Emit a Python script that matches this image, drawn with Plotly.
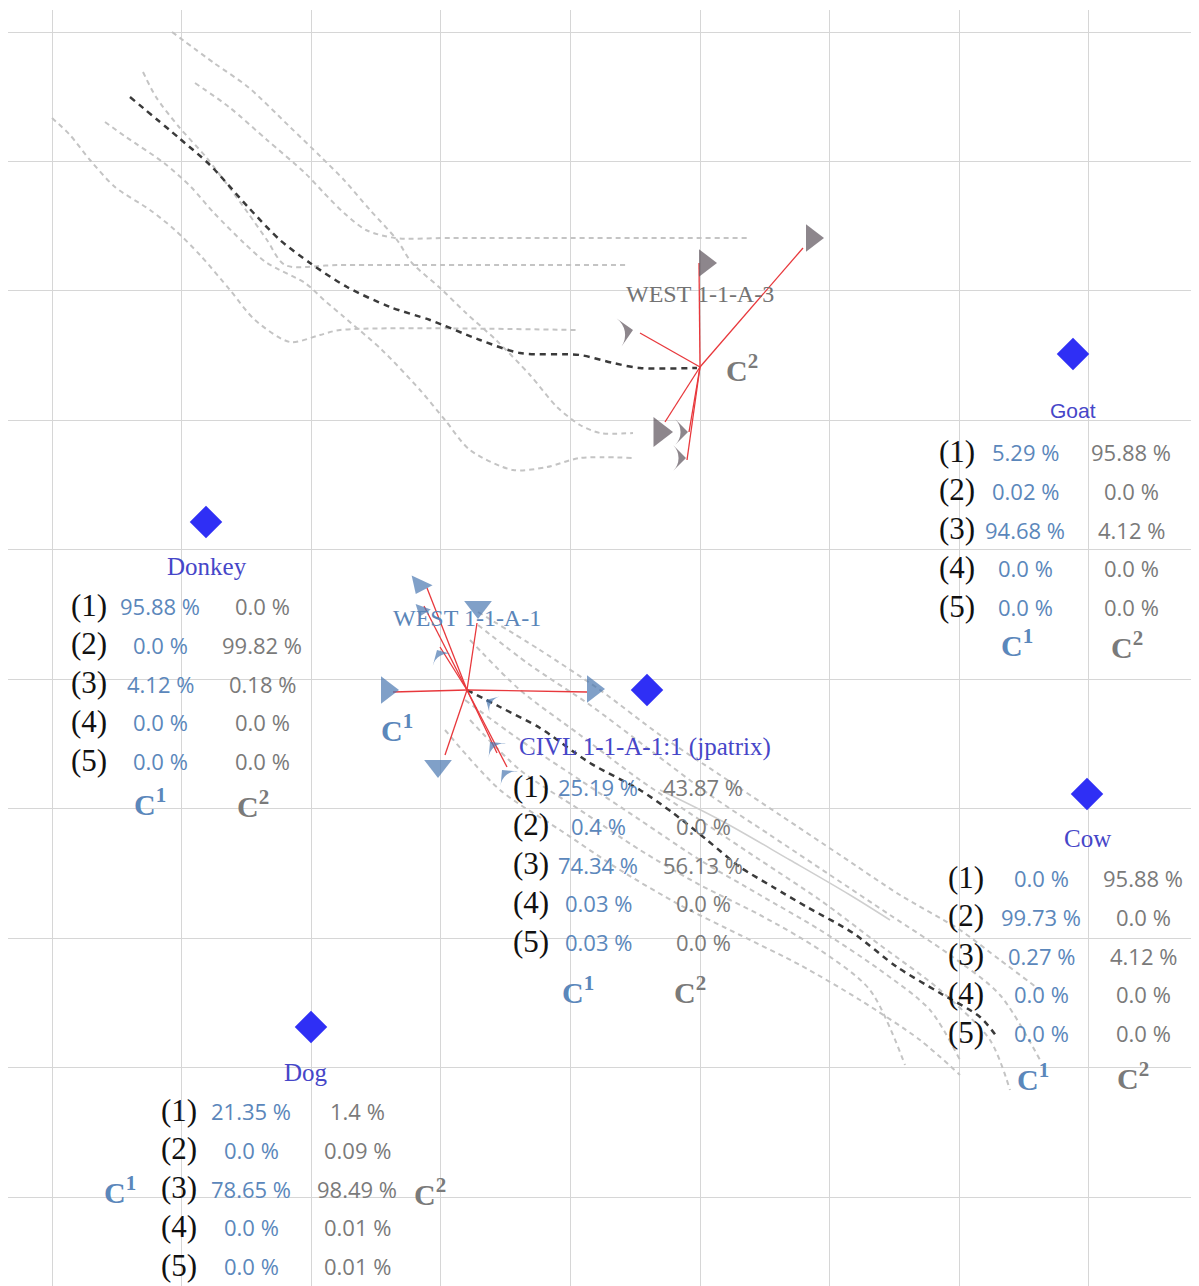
import plotly.graph_objects as go

# -------------------------------------------------
# data (page-pixel units)
# -------------------------------------------------
NODE_NAMES = ["Goat", "Donkey", "CIVL 1-1-A-1:1 (jpatrix)", "Cow", "Dog"]
NODE_X = [1073, 206, 647, 1087, 311]
NODE_Y = [354, 522, 690, 794, 1027]

ROW_TAGS = ["(1)", "(2)", "(3)", "(4)", "(5)"]
C1_SHARE = [
    [5.29, 0.02, 94.68, 0.0, 0.0],
    [95.88, 0.0, 4.12, 0.0, 0.0],
    [25.19, 0.4, 74.34, 0.03, 0.03],
    [0.0, 99.73, 0.27, 0.0, 0.0],
    [21.35, 0.0, 78.65, 0.0, 0.0],
]
C2_SHARE = [
    [95.88, 0.0, 4.12, 0.0, 0.0],
    [0.0, 99.82, 0.18, 0.0, 0.0],
    [43.87, 0.0, 56.13, 0.0, 0.0],
    [95.88, 0.0, 4.12, 0.0, 0.0],
    [1.4, 0.09, 98.49, 0.01, 0.01],
]

# star centres (cluster nodes)
STAR_NAMES = ["WEST 1-1-A-3", "WEST 1-1-A-1"]
STAR_X = [700, 467]
STAR_Y = [367, 690]

# edges out of the C2 star
C2_END_X = [699, 803, 640, 665, 689, 687]
C2_END_Y = [263, 248, 333, 422, 432, 460]
C2_HEAD_X = [705, 812, 633, 660, 688, 686]
C2_HEAD_Y = [263, 238, 330, 432, 432, 458]
C2_HEAD_SYM = ["triangle-right", "triangle-right", "arrow-wide", "triangle-right", "arrow-wide", "arrow-wide"]
C2_HEAD_ANG = [0, 0, 80, 0, 90, 90]

# edges out of the C1 star
C1_END_X = [393, 587, 427, 477, 440, 424, 445, 497, 507]
C1_END_Y = [692, 692, 588, 623, 647, 606, 755, 753, 767]
C1_HEAD_X = [387, 593, 420, 478, 437, 422, 438, 490, 502, 486]
C1_HEAD_Y = [690, 689, 585, 607, 650, 610, 766, 742, 770, 700]
C1_HEAD_SYM = ["triangle-right", "triangle-right", "triangle-down", "triangle-down", "arrow-wide",
               "triangle-down", "triangle-down", "arrow-wide", "arrow-wide", "arrow-wide"]
C1_HEAD_ANG = [0, 0, 25, 0, -30, 20, 0, -40, -40, -60]

# trails (dashed, gray) top-left
TRAIL_TOP_X = [
    [172, 214, 248, 290, 321, 344, 370, 397, 412, 439, 466, 496, 530, 557, 580, 600, 633],
    [195, 229, 267, 305, 324, 344, 366, 395, 450, 750],
    [143, 156, 179, 206, 229, 248, 267, 285, 340, 628],
    [105, 126, 164, 191, 214, 244, 267, 305, 324, 344, 382, 420, 445, 470, 513, 547, 580, 633],
    [52, 70, 90, 115, 150, 175, 200, 230, 255, 290, 320, 340, 577],
]
TRAIL_TOP_Y = [
    [32, 63, 87, 127, 157, 180, 210, 240, 263, 287, 313, 340, 375, 407, 425, 433, 433],
    [83, 107, 140, 173, 193, 213, 230, 238, 238, 238],
    [72, 97, 127, 157, 187, 213, 240, 265, 265, 265],
    [122, 137, 163, 187, 213, 243, 263, 283, 300, 317, 350, 390, 420, 450, 470, 467, 458, 458],
    [118, 135, 160, 187, 210, 230, 255, 290, 320, 342, 335, 330, 330],
]
DARK_TOP_X = [130, 179, 210, 248, 280, 310, 347, 390, 430, 480, 520, 580, 613, 640, 697]
DARK_TOP_Y = [97, 138, 165, 207, 240, 263, 287, 307, 320, 340, 353, 355, 363, 368, 368]

# trails (dashed, gray) bottom-right
TRAIL_BOT_X = [
    [478, 540, 600, 660, 720, 780, 840, 900, 960, 1000, 1040],
    [478, 530, 590, 650, 710, 770, 830, 890, 950, 1000, 1040],
    [470, 520, 580, 640, 700, 760, 820, 880, 940, 990, 1010],
    [465, 520, 580, 640, 700, 760, 820, 880, 930, 960],
    [470, 520, 580, 640, 700, 760, 820, 870, 905],
    [445, 500, 560, 620, 680, 740, 800, 860, 920, 960],
]
TRAIL_BOT_Y = [
    [612, 650, 690, 735, 775, 815, 855, 895, 930, 960, 990],
    [625, 665, 705, 750, 795, 835, 875, 915, 955, 995, 1060],
    [640, 690, 735, 780, 820, 860, 900, 945, 990, 1040, 1090],
    [700, 740, 780, 820, 860, 895, 930, 970, 1010, 1060],
    [720, 770, 810, 850, 885, 915, 950, 990, 1065],
    [730, 790, 830, 870, 905, 935, 965, 1000, 1040, 1075],
]
SOLID_BOT_X = [660, 720, 790, 850, 890]
SOLID_BOT_Y = [790, 820, 860, 895, 920]
DARK_BOT_X = [467, 500, 540, 590, 640, 673, 707, 740, 773, 807, 853, 897, 940, 980, 997]
DARK_BOT_Y = [690, 707, 728, 763, 790, 813, 840, 867, 887, 907, 933, 967, 993, 1017, 1037]

# -------------------------------------------------
# styles
# -------------------------------------------------
SERIF = "Liberation Serif, Times New Roman, serif"
NUMF = "Open Sans, Liberation Sans, sans-serif"
NAME_CLR = "#4646c8"
C1_CLR = "#5b87bb"
C2_CLR = "#7a7a7a"
C2_HEAD_CLR = "#5d535b"
C1_HEAD_CLR = "#4a78b0"

# table placement per node: label, first row y, tag/col1/col2 x, C1 / C2 label
TABLES = [
    dict(label=(1073, 410), y0=451, xs=(957, 1025, 1131), c1=(1017, 643), c2=(1127, 645), sans=True),
    dict(label=(207, 566), y0=605, xs=(89, 160, 262), c1=(150, 802), c2=(253, 804)),
    dict(label=(645, 747), y0=786, xs=(531, 598, 703), c1=(578, 990), c2=(690, 990)),
    dict(label=(1087, 838), y0=877, xs=(966, 1041, 1143), c1=(1033, 1077), c2=(1133, 1076)),
    dict(label=(306, 1072), y0=1110, xs=(179, 251, 357), c1=(120, 1190), c2=(430, 1192)),
]
ROW_DY = 38.8

fig = go.Figure()

# gray trails
for xs, ys in zip(TRAIL_TOP_X + TRAIL_BOT_X, TRAIL_TOP_Y + TRAIL_BOT_Y):
    fig.add_trace(go.Scatter(x=xs, y=ys, mode="lines",
                             line=dict(color="#c4c4c4", width=2, dash="5px,4px", shape="spline", smoothing=0.8),
                             hoverinfo="skip"))
fig.add_trace(go.Scatter(x=SOLID_BOT_X, y=SOLID_BOT_Y, mode="lines",
                         line=dict(color="#cfcfcf", width=1.5, shape="spline"), hoverinfo="skip"))

# dark trails
for xs, ys in [(DARK_TOP_X, DARK_TOP_Y), (DARK_BOT_X, DARK_BOT_Y)]:
    fig.add_trace(go.Scatter(x=xs, y=ys, mode="lines",
                             line=dict(color="#3a3a3a", width=2.5, dash="6px,5px", shape="spline", smoothing=0.8),
                             hoverinfo="skip"))

# red star edges
for cx, cy, ex, ey in [(STAR_X[0], STAR_Y[0], C2_END_X, C2_END_Y),
                       (STAR_X[1], STAR_Y[1], C1_END_X, C1_END_Y)]:
    lx, ly = [], []
    for x, y in zip(ex, ey):
        lx += [cx, x, None]
        ly += [cy, y, None]
    fig.add_trace(go.Scatter(x=lx, y=ly, mode="lines",
                             line=dict(color="#e8383c", width=1.3), hoverinfo="skip"))

# arrow heads
fig.add_trace(go.Scatter(x=C2_HEAD_X, y=C2_HEAD_Y, mode="markers",
                         marker=dict(symbol=C2_HEAD_SYM, angle=C2_HEAD_ANG, size=[24, 24, 20, 26, 18, 18],
                                     color=C2_HEAD_CLR, line=dict(width=0)), hoverinfo="skip"))
fig.add_trace(go.Scatter(x=C1_HEAD_X, y=C1_HEAD_Y, mode="markers",
                         marker=dict(symbol=C1_HEAD_SYM, angle=C1_HEAD_ANG,
                                     size=[24, 24, 20, 24, 16, 14, 24, 16, 16, 14],
                                     color=C1_HEAD_CLR, line=dict(width=0)), hoverinfo="skip"))

# nodes
fig.add_trace(go.Scatter(x=NODE_X, y=NODE_Y, mode="markers",
                         marker=dict(symbol="diamond", size=25, color="#2f2ff5", line=dict(width=0)),
                         text=NODE_NAMES, hoverinfo="text"))

ann = []


def txt(x, y, s, size, color, family=SERIF):
    ann.append(dict(x=x, y=y, text=s, showarrow=False, xanchor="center", yanchor="middle",
                    font=dict(size=size, color=color, family=family)))


for name, t, c1v, c2v in zip(NODE_NAMES, TABLES, C1_SHARE, C2_SHARE):
    fam = "Liberation Sans, Arial, sans-serif" if t.get("sans") else SERIF
    txt(*t["label"], name, 21 if t.get("sans") else 25, NAME_CLR, fam)
    xn, x1, x2 = t["xs"]
    for i, (tag, a, b) in enumerate(zip(ROW_TAGS, c1v, c2v)):
        y = t["y0"] + i * ROW_DY
        txt(xn, y, tag, 31, "#111111")
        txt(x1, y + 1, f"{a} %", 22, C1_CLR, NUMF)
        txt(x2, y + 1, f"{b} %", 22, C2_CLR, NUMF)
    txt(*t["c1"], "<b>C<sup>1</sup></b>", 30, C1_CLR)
    txt(*t["c2"], "<b>C<sup>2</sup></b>", 30, C2_CLR)

# star labels
txt(700, 294, STAR_NAMES[0], 24, "#737373")
txt(467, 618, STAR_NAMES[1], 24, "#5a85b8")
txt(742, 368, "<b>C<sup>2</sup></b>", 30, C2_CLR)
txt(397, 728, "<b>C<sup>1</sup></b>", 30, C1_CLR)

fig.update_layout(
    width=1191, height=1278,
    margin=dict(l=0, r=2, t=2, b=0),
    paper_bgcolor="white", plot_bgcolor="white",
    showlegend=False,
    annotations=ann,
    xaxis=dict(range=[8, 1197], tick0=52, dtick=129.6, showticklabels=False, ticks="",
               showgrid=True, gridcolor="#d6d6d6", gridwidth=1, zeroline=False, fixedrange=True),
    yaxis=dict(range=[1286, 10], tick0=32, dtick=129.45, showticklabels=False, ticks="",
               showgrid=True, gridcolor="#d6d6d6", gridwidth=1, zeroline=False, fixedrange=True),
)

fig.write_html("out.html")
